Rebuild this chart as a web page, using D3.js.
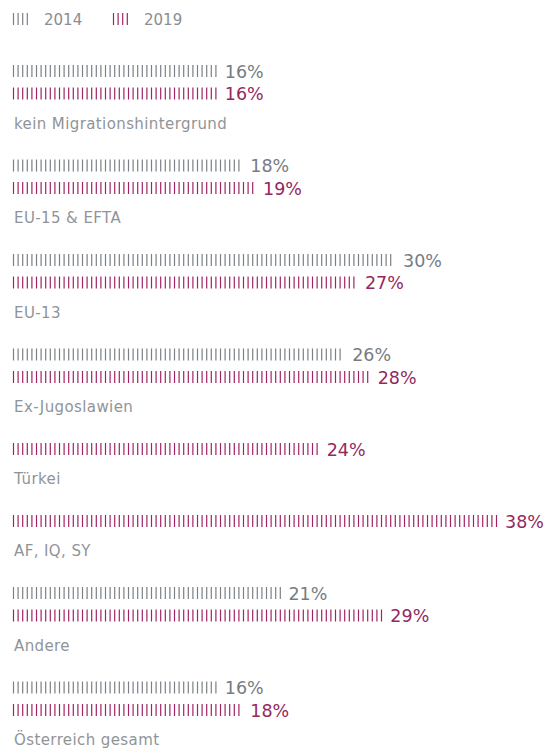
<!DOCTYPE html>
<html>
<head>
<meta charset="utf-8">
<script src="https://cdn.jsdelivr.net/npm/d3@7"></script>
<style>
  body { margin: 0; background: #fff; }
  text { font-family: "DejaVu Sans", sans-serif; font-weight: 400; }
</style>
</head>
<body>
<svg id="grafico"></svg>
<script>
// Daten
var kategorien = ['kein Migrationshintergrund', 'EU-15 & EFTA', 'EU-13', 'Ex-Jugoslawien',
                  'Türkei', 'AF, IQ, SY', 'Andere', 'Österreich gesamt'];
var werte2014 = [16, 18, 30, 26, null, null, 21, 16];
var werte2019 = [16, 19, 27, 28, 24, 38, 29, 18];
var jahre = ['2014', '2019'];

var farben = { '2014': '#7a8086', '2019': '#9e2465' };
var textFarben = { '2014': '#767c82', '2019': '#93295f' };

var breite = 551, hoehe = 749;
var svg = d3.select('#grafico').attr('width', breite).attr('height', hoehe);

var links = 13;
var x = d3.scaleLinear().domain([0, 38]).range([links, 497]);
var abstand = 4.6;   // Abstand der Striche
var strichHoehe = 12;
var balkenAbstand = 22.5;

// Legende
jahre.forEach(function(j, i) {
  var lx = links + i * 100;
  var g = svg.append('g');
  d3.range(4).forEach(function(k) {
    g.append('line')
     .attr('x1', lx + 0.5 + k * abstand).attr('x2', lx + 0.5 + k * abstand)
     .attr('y1', 13).attr('y2', 25)
     .attr('stroke', farben[j]).attr('stroke-width', 1.2);
  });
  g.append('text')
   .attr('x', lx + 31).attr('y', 25)
   .attr('fill', '#8a8e92')
   .style('font-size', '15px')
   .text(j);
});

// Gruppen aufbauen
var zeilen = kategorien.map(function(k, i) {
  var balken = [];
  if (werte2014[i] != null) balken.push({ jahr: '2014', wert: werte2014[i] });
  if (werte2019[i] != null) balken.push({ jahr: '2019', wert: werte2019[i] });
  return { kategorie: k, balken: balken };
});

var y0 = 71;
zeilen.forEach(function(z) {
  var g = svg.append('g');
  z.balken.forEach(function(b, bi) {
    var cy = y0 + bi * balkenAbstand;
    var ende = x(b.wert);
    var striche = d3.range(links + 0.5, ende, abstand);
    g.selectAll(null)
     .data(striche)
     .enter()
     .append('line')
     .attr('x1', d => d).attr('x2', d => d)
     .attr('y1', cy - strichHoehe / 2).attr('y2', cy + strichHoehe / 2)
     .attr('stroke', farben[b.jahr])
     .attr('stroke-width', 1.2);
    g.append('text')
     .attr('x', ende + 8)
     .attr('y', cy + 6.5)
     .attr('fill', textFarben[b.jahr])
     .style('font-size', '17.5px')
     .text(b.wert + '%');
  });
  var labelY = y0 + (z.balken.length - 1) * balkenAbstand + 35;
  g.append('text')
   .attr('x', links + 1)
   .attr('y', labelY)
   .attr('fill', '#909498')
   .style('font-size', '15px')
   .style('letter-spacing', '0.4px')
   .text(z.kategorie);
  y0 += z.balken.length * balkenAbstand + 49.5;
});
</script>
</body>
</html>
